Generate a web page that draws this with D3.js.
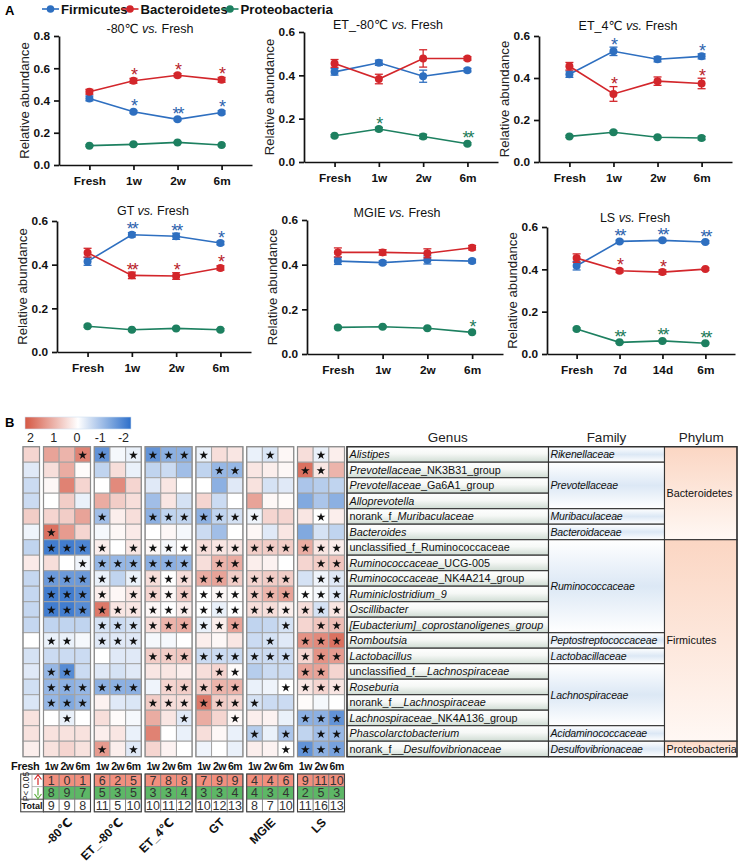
<!DOCTYPE html>
<html><head><meta charset="utf-8">
<script src="https://cdn.jsdelivr.net/npm/d3@7"></script>
<style>body{margin:0;background:#fff} svg{display:block} text{font-family:"Liberation Sans",Arial,"DejaVu Sans",sans-serif}</style>
</head><body><svg id="c" width="742" height="865"></svg>
<script>
// ---------------- DATA: panel A ----------------
const seriesNames = ["Firmicutes","Bacteroidetes","Proteobacteria"];
const panelGroups = ["-80℃","ET_-80℃","ET_4℃","GT","MGIE","LS"];
const timeCats = [["Fresh","1w","2w","6m"],["Fresh","1w","2w","6m"],["Fresh","1w","2w","6m"],
                  ["Fresh","1w","2w","6m"],["Fresh","1w","2w","6m"],["Fresh","7d","14d","6m"]];
const yMaxes = [0.8,0.6,0.6,0.6,0.6,0.6];
const firmicutesMean = [[0.413,0.33,0.283,0.326],[0.416,0.458,0.396,0.424],[0.418,0.527,0.489,0.503],
                        [0.415,0.537,0.53,0.499],[0.416,0.409,0.421,0.416],[0.417,0.532,0.537,0.529]];
const firmicutesErr = [[0.015,0.008,0.008,0.01],[0.015,0.012,0.028,0.008],[0.015,0.02,0.012,0.012],
                       [0.018,0.01,0.014,0.008],[0.015,0.008,0.018,0.008],[0.02,0.006,0.006,0.006]];
const bacteroidetesMean = [[0.454,0.522,0.557,0.528],[0.455,0.383,0.478,0.478],[0.456,0.324,0.385,0.374],
                           [0.455,0.351,0.348,0.385],[0.455,0.455,0.451,0.476],[0.453,0.393,0.387,0.401]];
const bacteroidetesErr = [[0.015,0.015,0.01,0.015],[0.018,0.022,0.04,0.008],[0.018,0.035,0.02,0.025],
                          [0.02,0.015,0.015,0.01],[0.02,0.012,0.02,0.01],[0.02,0.008,0.01,0.006]];
const proteobacteriaMean = [[0.12,0.128,0.14,0.124],[0.121,0.152,0.118,0.084],[0.122,0.142,0.118,0.114],
                            [0.118,0.102,0.108,0.102],[0.119,0.122,0.115,0.097],[0.118,0.055,0.062,0.051]];
const proteobacteriaErr = [[0.005,0.006,0.006,0.006],[0.005,0.008,0.01,0.005],[0.005,0.006,0.005,0.008],
                           [0.005,0.005,0.005,0.005],[0.005,0.005,0.005,0.005],[0.005,0.004,0.004,0.004]];
const firmicutesSig = [["","*","**","*"],["","","",""],["","*","","*"],["","**","**","*"],["","","",""],["","**","**","**"]];
const bacteroidetesSig = [["","*","*","*"],["","","",""],["","*","","*"],["","**","*","*"],["","","",""],["","*","*",""]];
const proteobacteriaSig = [["","","",""],["","*","","**"],["","","",""],["","","",""],["","","","*"],["","**","**","**"]];

// ---------------- DATA: panel B ----------------
const genusLabels = ["<i>Alistipes</i>","<i>Prevotellaceae</i>_NK3B31_group","<i>Prevotellaceae</i>_Ga6A1_group",
 "<i>Alloprevotella</i>","norank_f_<i>Muribaculaceae</i>","<i>Bacteroides</i>","unclassified_f_Ruminococcaceae",
 "<i>Ruminococcaceae</i>_UCG-005","<i>Ruminococcaceae</i>_NK4A214_group","<i>Ruminiclostridium_9</i>","<i>Oscillibacter</i>",
 "<i>[Eubacterium]_coprostanoligenes_group</i>","<i>Romboutsia</i>","<i>Lactobacillus</i>","unclassified_f__<i>Lachnospiraceae</i>",
 "<i>Roseburia</i>","norank_f__<i>Lachnospiraceae</i>","<i>Lachnospiraceae</i>_NK4A136_group","<i>Phascolarctobacterium</i>",
 "norank_f__<i>Desulfovibrionaceae</i>"];
const familyLabels = ["Rikenellaceae","Prevotellaceae","Muribaculaceae","Bacteroidaceae","Ruminococcaceae",
 "Peptostreptococcaceae","Lactobacillaceae","Lachnospiraceae","Acidaminococcaceae","Desulfovibrionaceae"];
const familySpans = [[0,0],[1,3],[4,4],[5,5],[6,11],[12,12],[13,13],[14,17],[18,18],[19,19]];
const phylumLabels = ["Bacteroidetes","Firmicutes","Proteobacteria"];
const phylumSpans = [[0,5],[6,18],[19,19]];
const timeLabelsB = ["1w","2w","6m"];
const colorbarTicks = [2,1,0,-1,-2];
const freshValues = [0.5,-0.3,-0.5,-0.5,0.6,-0.15,-0.6,0.25,-0.55,-0.55,-0.55,-0.55,0,-0.4,-0.3,-0.45,-0.35,0.35,0.35,0.2];
const heatM80 = [[1.1,0.9,1.5],[0.4,1.0,0.05],[0.1,1.5,0.5],[0,0.6,-0.2],[0.5,0.6,1.1],[1.7,1.2,0.5],[-1.8,-1.8,-1.7],
 [0.4,0,-0.15],[-1.4,-1.4,-1.4],[-1.8,-1.8,-1.6],[-1.8,-1.8,-1.6],[-0.6,-0.6,-0.6],[-0.2,-0.2,-0.1],[-0.5,-0.5,-0.5],
 [-1.0,-1.6,-0.5],[-1.0,-1.1,-1.0],[-1.0,-1.2,-1.0],[0,-0.2,0],[0.35,0.35,0.35],[0.35,0.5,0.35]];
const heatET80 = [[-1.5,-0.1,-0.2],[-0.6,0.4,-0.2],[0,1.4,0.5],[1.0,0.6,0.4],[-0.9,0.2,0.4],[-0.1,0.1,0.25],[0.2,0,0.3],
 [-1.0,-1.0,-1.0],[-0.2,-0.6,-0.2],[0.2,0.1,0.3],[1.6,0.3,0.3],[-0.4,-0.5,-0.4],[-0.3,-0.3,-0.3],[0,-0.3,-0.3],
 [-0.3,-0.4,-0.3],[-1.1,-1.1,-1.1],[0.15,-0.3,-0.35],[0.4,0.05,-0.1],[0.2,0.3,-0.2],[1.2,0.2,-0.3]];
const heatET4 = [[-1.5,-1.1,-1.1],[-0.6,-0.5,-0.9],[-0.3,0.3,0],[-0.9,0.3,-0.4],[-1.1,-0.6,-0.6],[0,0.1,-0.1],[0.1,-0.1,0],
 [-1.1,-1.1,-1.0],[0.4,0,0.4],[0.5,0.1,0.6],[0.1,0,0.2],[0.4,0.9,1.0],[-0.1,-0.1,0],[0.6,0.6,0.7],[0.3,0.3,0.2],
 [-0.15,0.5,0.6],[0.6,0.4,0.4],[1.0,0.3,-0.3],[1.5,0,-0.2],[0.5,0.15,0]];
const heatGT = [[-0.2,0.4,0.3],[-0.6,-1.0,-1.0],[0,-1.1,-0.3],[0.5,-0.5,0],[-1.1,-0.6,-0.4],[-0.5,-0.9,0],[0.4,0.3,0.3],
 [0.4,0.9,1.0],[1.0,1.1,0.6],[0,0.1,0.05],[0,-0.2,0],[-0.2,0.2,1.1],[0.2,0.1,0.3],[-0.5,-0.5,-0.5],[0.4,0.5,0.05],
 [0.6,0.9,0.9],[1.6,0.6,0.5],[1.0,0.5,0.1],[0.4,0.1,-0.2],[-0.15,0,-0.2]];
const heatMGIE = [[-0.2,-0.35,0.1],[0.3,0.2,0.1],[0.35,-0.4,-0.3],[1.1,0.1,0.05],[-0.15,0.5,0.5],[0.1,-0.3,0.3],[0.6,0.6,0.6],
 [0.2,0.15,0],[0.5,0.6,0.6],[0.6,0.9,1.1],[0.4,0.4,0.2],[-0.6,-0.55,-0.4],[-0.5,-0.4,-0.3],[-0.5,-0.5,-0.5],[-0.7,-0.5,-0.5],
 [-0.2,-0.15,0],[-0.4,-0.5,-0.5],[0.2,0.15,-0.2],[-0.7,-0.2,-0.8],[0.2,0.15,0]];
const heatLS = [[0.4,-0.2,0.2],[1.7,0.3,0.9],[-0.8,-0.7,-0.6],[-1.2,-0.8,-1.1],[0.3,0,0.2],[-1.2,-0.4,-0.6],[1.0,0.3,0.2],
 [0.5,0.6,0.7],[-0.4,-0.15,-0.3],[0,-0.1,-0.3],[0.4,-0.4,0.3],[0.5,0.7,0.8],[1.3,1.4,1.7],[0.5,1.3,1.2],[1.1,1.1,0.5],
 [0.3,0.5,0.3],[0.05,-0.1,0],[-1.1,-1.1,-1.5],[-0.6,-0.9,-1.0],[-1.5,-1.1,-1.3]];
const sigM80 = ["001","000","000","000","000","100","111","001","111","111","111","000","110","000","110","111","111","010","000","000"];
const sigET80 = ["101","000","000","000","100","000","101","111","101","101","111","111","111","000","000","111","000","000","000","101"];
const sigET4 = ["111","000","000","000","111","000","111","111","111","111","111","111","000","111","000","011","111","001","000","000"];
const sigGT = ["100","011","000","000","111","000","111","011","111","111","111","111","000","111","011","111","111","001","000","000"];
const sigMGIE = ["010","000","000","000","100","000","111","000","111","111","111","001","010","111","000","001","100","000","101","001"];
const sigLS = ["010","110","000","000","010","000","111","011","011","111","111","011","111","111","110","111","000","111","011","111"];
const countUp = [[1,0,1],[6,2,5],[7,8,8],[7,9,9],[4,4,6],[9,11,10]];
const countDown = [[8,9,7],[5,3,5],[3,3,4],[3,3,4],[4,3,4],[2,5,3]];
const countTotal = [[9,9,8],[11,5,10],[10,11,12],[10,12,13],[8,7,10],[11,16,13]];

// ---------------- RENDER ----------------
const svg = d3.select("#c");
const seriesColors = ["#2e6fc0","#d3262b","#1d8060"];
const starColors = ["#2e63ad","#b8232a","#1d7a5a"];
const means = [firmicutesMean, bacteroidetesMean, proteobacteriaMean];
const errs = [firmicutesErr, bacteroidetesErr, proteobacteriaErr];
const sigs = [firmicutesSig, bacteroidetesSig, proteobacteriaSig];

svg.append("text").attr("x",5).attr("y",15).attr("font-weight","bold").attr("font-size",13).text("A");
svg.append("text").attr("x",5).attr("y",427).attr("font-weight","bold").attr("font-size",13).text("B");

// legend
const legendX = [42,121.5,221.5];
seriesNames.forEach((n,i)=>{
  const g = svg.append("g").attr("transform",`translate(${legendX[i]},9)`);
  g.append("line").attr("x1",0).attr("x2",17).attr("stroke",seriesColors[i]).attr("stroke-width",1.6);
  g.append("circle").attr("cx",8.5).attr("r",3.8).attr("fill",seriesColors[i]);
  g.append("text").attr("x",19).attr("y",4.8).attr("font-weight","bold").attr("font-size",13.2).attr("fill","#111").text(n);
});

const panelLayout = [
 {x0:59,x1:252,yt:36,yb:165,tx:150,ty:28},
 {x0:304,x1:498,yt:32,yb:162,tx:388,ty:24},
 {x0:539,x1:732,yt:36,yb:162,tx:628,ty:25},
 {x0:57,x1:251,yt:221,yb:352,tx:153,ty:210},
 {x0:307,x1:503,yt:220,yb:354,tx:397,ty:212},
 {x0:547,x1:735,yt:227,yb:354,tx:635,ty:217}];

panelGroups.forEach((pg,i)=>{
  const L = panelLayout[i];
  const x = d3.scalePoint().domain(timeCats[i]).range([L.x0,L.x1]).padding(0.69);
  const y = d3.scaleLinear().domain([0,yMaxes[i]]).range([L.yb,L.yt]);
  const g = svg.append("g");
  const ya = g.append("g").attr("transform",`translate(${L.x0},0)`)
    .call(d3.axisLeft(y).tickValues(d3.range(0,yMaxes[i]+0.001,0.2)).tickFormat(d3.format(".1f")).tickSize(5).tickSizeOuter(0));
  const xa = g.append("g").attr("transform",`translate(0,${L.yb})`)
    .call(d3.axisBottom(x).tickSize(5).tickSizeOuter(0));
  [ya,xa].forEach(a=>{
    a.selectAll("path,line").attr("stroke","#111").attr("stroke-width",1.7);
    a.selectAll("text").attr("font-weight","bold").attr("font-size",11.8).attr("fill","#111")
      .style("font-family",'"Liberation Sans",Arial,sans-serif');
  });
  xa.selectAll("text").attr("dy","1.05em");
  ya.selectAll("text").attr("dx","-1");
  g.append("text").attr("transform",`translate(${L.x0-30},${(L.yt+L.yb)/2}) rotate(-90)`)
    .attr("text-anchor","middle").attr("font-size",13.2).attr("fill","#222").text("Relative abundance");
  const t = g.append("text").attr("x",L.tx).attr("y",L.ty+4.5).attr("text-anchor","middle").attr("font-size",12.5).attr("fill","#111");
  t.append("tspan").text(pg+" ");
  t.append("tspan").attr("font-style","italic").text("vs.");
  t.append("tspan").text(" Fresh");
  // series
  [0,1,2].forEach(s=>{
    const pts = timeCats[i].map((c,j)=>({c, m:means[s][i][j], e:errs[s][i][j], sig:sigs[s][i][j]}));
    g.append("path").datum(pts).attr("fill","none").attr("stroke",seriesColors[s]).attr("stroke-width",1.6)
      .attr("d",d3.line().x(d=>x(d.c)).y(d=>y(d.m)));
    const eb = g.selectAll(null).data(pts).enter().append("g").attr("stroke",seriesColors[s]).attr("stroke-width",1.3);
    eb.append("line").attr("x1",d=>x(d.c)).attr("x2",d=>x(d.c)).attr("y1",d=>y(d.m-d.e)).attr("y2",d=>y(d.m+d.e));
    eb.append("line").attr("x1",d=>x(d.c)-4).attr("x2",d=>x(d.c)+4).attr("y1",d=>y(d.m-d.e)).attr("y2",d=>y(d.m-d.e));
    eb.append("line").attr("x1",d=>x(d.c)-4).attr("x2",d=>x(d.c)+4).attr("y1",d=>y(d.m+d.e)).attr("y2",d=>y(d.m+d.e));
    g.selectAll(null).data(pts).enter().append("circle").attr("cx",d=>x(d.c)).attr("cy",d=>y(d.m)).attr("r",4)
      .attr("fill",seriesColors[s]);
    g.selectAll(null).data(pts.filter(d=>d.sig)).enter().append("text")
      .attr("x",d=>x(d.c)).attr("y",d=>Math.min(y(d.m+d.e), y(d.m)-3)+3.5).attr("text-anchor","middle")
      .attr("font-size",18).attr("font-family","DejaVu Sans").attr("fill",starColors[s]).attr("letter-spacing",-2).text(d=>d.sig);
  });
});

// ---------------- Heatmap ----------------
const color = d3.scaleLinear().domain([-2,0,2]).range(["#2d6fca","#ffffff","#d55844"]).clamp(true);
const rowH = 15.5, heatTop = 446.7;
const rowScale = d3.scaleBand().domain(d3.range(genusLabels.length)).range([heatTop, heatTop+rowH*genusLabels.length]);
const groupScale = d3.scaleBand().domain(panelGroups).range([43.5,344.5]).paddingInner(0.075);
const heatData = [heatM80,heatET80,heatET4,heatGT,heatMGIE,heatLS];
const sigData = [sigM80,sigET80,sigET4,sigGT,sigMGIE,sigLS];
const starPath = d3.symbol().type(d3.symbolStar).size(24)();

// colorbar
const defs = svg.append("defs");
const cb = defs.append("linearGradient").attr("id","cbar");
d3.range(0,1.001,0.1).forEach(t=>cb.append("stop").attr("offset",t).attr("stop-color",color(2-4*t)));
const cbScale = d3.scaleLinear().domain([2,-2]).range([30.5,123.5]);
svg.append("rect").attr("x",25).attr("y",417).attr("width",106).attr("height",12).attr("fill","url(#cbar)")
  .attr("stroke","#cfe0f2").attr("stroke-width",0.6);
svg.selectAll(null).data(colorbarTicks).enter().append("text").attr("x",d=>cbScale(d)).attr("y",442)
  .attr("text-anchor","middle").attr("font-size",12.5).attr("fill","#222").text(d=>d);

// fresh column
const freshX = 23, freshW = 16.5;
svg.selectAll(null).data(freshValues).enter().append("rect")
  .attr("x",freshX).attr("y",(d,i)=>rowScale(i)).attr("width",freshW).attr("height",rowH)
  .attr("fill",d=>color(d)).attr("stroke","#a3a3a3").attr("stroke-width",1);
svg.append("rect").attr("x",freshX).attr("y",heatTop).attr("width",freshW).attr("height",rowH*20)
  .attr("fill","none").attr("stroke","#8d8d8d").attr("stroke-width",1.2);

panelGroups.forEach((pg,gi)=>{
  const gx = groupScale(pg);
  const col = d3.scaleBand().domain(timeLabelsB).range([gx,gx+groupScale.bandwidth()]);
  const cells = [];
  heatData[gi].forEach((row,ri)=>row.forEach((v,ci)=>cells.push({ri,ci,v,s:sigData[gi][ri][ci]==="1"})));
  svg.selectAll(null).data(cells).enter().append("rect")
    .attr("x",d=>col(timeLabelsB[d.ci])).attr("y",d=>rowScale(d.ri)).attr("width",col.bandwidth()).attr("height",rowH)
    .attr("fill",d=>color(d.v)).attr("stroke","#a3a3a3").attr("stroke-width",1);
  svg.selectAll(null).data(cells.filter(d=>d.s)).enter().append("path").attr("d",starPath)
    .attr("transform",d=>`translate(${col(timeLabelsB[d.ci])+col.bandwidth()/2},${rowScale(d.ri)+rowH/2+0.8})`)
    .attr("fill","#111");
  svg.append("rect").attr("x",gx).attr("y",heatTop).attr("width",groupScale.bandwidth()).attr("height",rowH*20)
    .attr("fill","none").attr("stroke","#8d8d8d").attr("stroke-width",1.2);
  // time labels
  svg.selectAll(null).data(timeLabelsB).enter().append("text").attr("x",d=>col(d)+col.bandwidth()/2).attr("y",769.5)
    .attr("text-anchor","middle").attr("font-weight","bold").attr("font-size",10.5).attr("letter-spacing",-0.5)
    .attr("fill","#111").text(d=>d);
  // summary
  const sumRows = [{vals:countUp[gi],fill:"#f18f7e",y:774},{vals:countDown[gi],fill:"#5db766",y:786.6},{vals:countTotal[gi],fill:"#ffffff",y:799.2}];
  sumRows.forEach(r=>{
    svg.selectAll(null).data(r.vals).enter().append("rect").attr("x",(d,ci)=>col(timeLabelsB[ci])).attr("y",r.y)
      .attr("width",col.bandwidth()).attr("height",12.6).attr("fill",r.fill).attr("stroke","#7a7a7a").attr("stroke-width",0.8);
    svg.selectAll(null).data(r.vals).enter().append("text").attr("x",(d,ci)=>col(timeLabelsB[ci])+col.bandwidth()/2)
      .attr("y",r.y+10.6).attr("text-anchor","middle").attr("font-size",12.5).attr("fill","#333").text(d=>d);
  });
  svg.append("rect").attr("x",gx).attr("y",774).attr("width",groupScale.bandwidth()).attr("height",37.8)
    .attr("fill","none").attr("stroke","#444").attr("stroke-width",1.1);
  // rotated group label
  svg.append("text").attr("transform",`translate(${gx+groupScale.bandwidth()/2+6},823) rotate(-45)`)
    .attr("text-anchor","end").attr("font-weight","bold").attr("font-size",12).attr("fill","#111").text(pg);
});
svg.append("text").attr("x",39.5).attr("y",769.5).attr("text-anchor","end").attr("font-weight","bold")
  .attr("font-size",11).attr("letter-spacing",-0.3).attr("fill","#111").text("Fresh");

// summary label box
const lb = svg.append("g");
lb.append("rect").attr("x",20.7).attr("y",774).attr("width",22.6).attr("height",37.8).attr("fill","#fff").attr("stroke","#444").attr("stroke-width",1.1);
lb.append("line").attr("x1",20.7).attr("x2",43.3).attr("y1",799.2).attr("y2",799.2).attr("stroke","#444");
lb.append("line").attr("x1",32).attr("x2",32).attr("y1",774).attr("y2",799.2).attr("stroke","#999").attr("stroke-width",0.7);
lb.append("line").attr("x1",32).attr("x2",43.3).attr("y1",786.6).attr("y2",786.6).attr("stroke","#999").attr("stroke-width",0.7);
lb.append("text").attr("transform","translate(29,786.6) rotate(-90)").attr("text-anchor","middle").attr("font-size",8.5).attr("fill","#222").text("P< 0.05");
lb.append("line").attr("x1",38).attr("x2",38).attr("y1",785).attr("y2",778).attr("stroke","#d52a2a").attr("stroke-width",1.2);
lb.append("path").attr("d","M34.5,779.5 L38,774.8 L41.5,779.5").attr("fill","none").attr("stroke","#d52a2a").attr("stroke-width",1.2);
lb.append("line").attr("x1",38).attr("x2",38).attr("y1",788).attr("y2",795.5).attr("stroke","#5aae3c").attr("stroke-width",1.2);
lb.append("path").attr("d","M34.5,794 L38,798.6 L41.5,794").attr("fill","none").attr("stroke","#5aae3c").attr("stroke-width",1.2);
lb.append("text").attr("x",32).attr("y",808.8).attr("text-anchor","middle").attr("font-weight","bold").attr("font-size",9).attr("fill","#111").text("Total");

// ---------------- Taxonomy table ----------------
const gGrad = defs.append("linearGradient").attr("id","gGrad").attr("x1",0).attr("x2",0).attr("y1",0).attr("y2",1);
gGrad.append("stop").attr("offset",0).attr("stop-color","#ffffff");
gGrad.append("stop").attr("offset",0.45).attr("stop-color","#f6f8f6");
gGrad.append("stop").attr("offset",1).attr("stop-color","#cfdcd3");
const fGrad = defs.append("linearGradient").attr("id","fGrad").attr("x1",0).attr("x2",0).attr("y1",0).attr("y2",1);
fGrad.append("stop").attr("offset",0).attr("stop-color","#ffffff");
fGrad.append("stop").attr("offset",0.5).attr("stop-color","#dce8f5");
fGrad.append("stop").attr("offset",1).attr("stop-color","#ffffff");
const pGrad = defs.append("linearGradient").attr("id","pGrad").attr("x1",0).attr("x2",0).attr("y1",0).attr("y2",1);
pGrad.append("stop").attr("offset",0).attr("stop-color","#fbd6c3");
pGrad.append("stop").attr("offset",1).attr("stop-color","#fff8f4");

const genusX = 347, familyX = 548.5, phylumX = 664.5, tableR = 737;
const headers = [{t:"Genus",x:(genusX+familyX)/2},{t:"Family",x:(familyX+phylumX)/2},{t:"Phylum",x:(phylumX+tableR)/2+0.5}];
svg.selectAll(null).data(headers).enter().append("text").attr("x",d=>d.x).attr("y",442).attr("text-anchor","middle")
  .attr("font-size",13.5).attr("fill","#222").text(d=>d.t);

genusLabels.forEach((lab,i)=>{
  svg.append("rect").attr("x",genusX).attr("y",rowScale(i)).attr("width",familyX-genusX).attr("height",rowH)
    .attr("fill","url(#gGrad)").attr("stroke","#333").attr("stroke-width",1.1);
  const t = svg.append("text").attr("x",genusX+2.5).attr("y",rowScale(i)+rowH/2+4).attr("font-size",10.8).attr("fill","#111");
  lab.split(/(<i>.*?<\/i>)/).filter(s=>s).forEach(seg=>{
    const it = seg.startsWith("<i>");
    t.append("tspan").attr("font-style",it?"italic":"normal").text(seg.replace(/<\/?i>/g,""));
  });
});
familyLabels.forEach((f,i)=>{
  const [a,b] = familySpans[i];
  const y0 = rowScale(a), y1 = rowScale(b)+rowH;
  svg.append("rect").attr("x",familyX).attr("y",y0).attr("width",phylumX-familyX).attr("height",y1-y0)
    .attr("fill","url(#fGrad)").attr("stroke","#333").attr("stroke-width",1.1);
  svg.append("text").attr("x",familyX+2).attr("y",(y0+y1)/2+4).attr("font-size",10.5).attr("letter-spacing",-0.15)
    .attr("font-style","italic").attr("fill","#111").text(f);
});
phylumLabels.forEach((p,i)=>{
  const [a,b] = phylumSpans[i];
  const y0 = rowScale(a), y1 = rowScale(b)+rowH;
  svg.append("rect").attr("x",phylumX).attr("y",y0).attr("width",tableR-phylumX).attr("height",y1-y0)
    .attr("fill","url(#pGrad)").attr("stroke","#333").attr("stroke-width",1.1);
  svg.append("text").attr("x",phylumX+2).attr("y",(y0+y1)/2+4).attr("font-size",10.8).attr("fill","#111").text(p);
});
svg.append("rect").attr("x",genusX).attr("y",heatTop).attr("width",tableR-genusX).attr("height",rowH*20)
  .attr("fill","none").attr("stroke","#333").attr("stroke-width",1.3);
</script></body></html>
